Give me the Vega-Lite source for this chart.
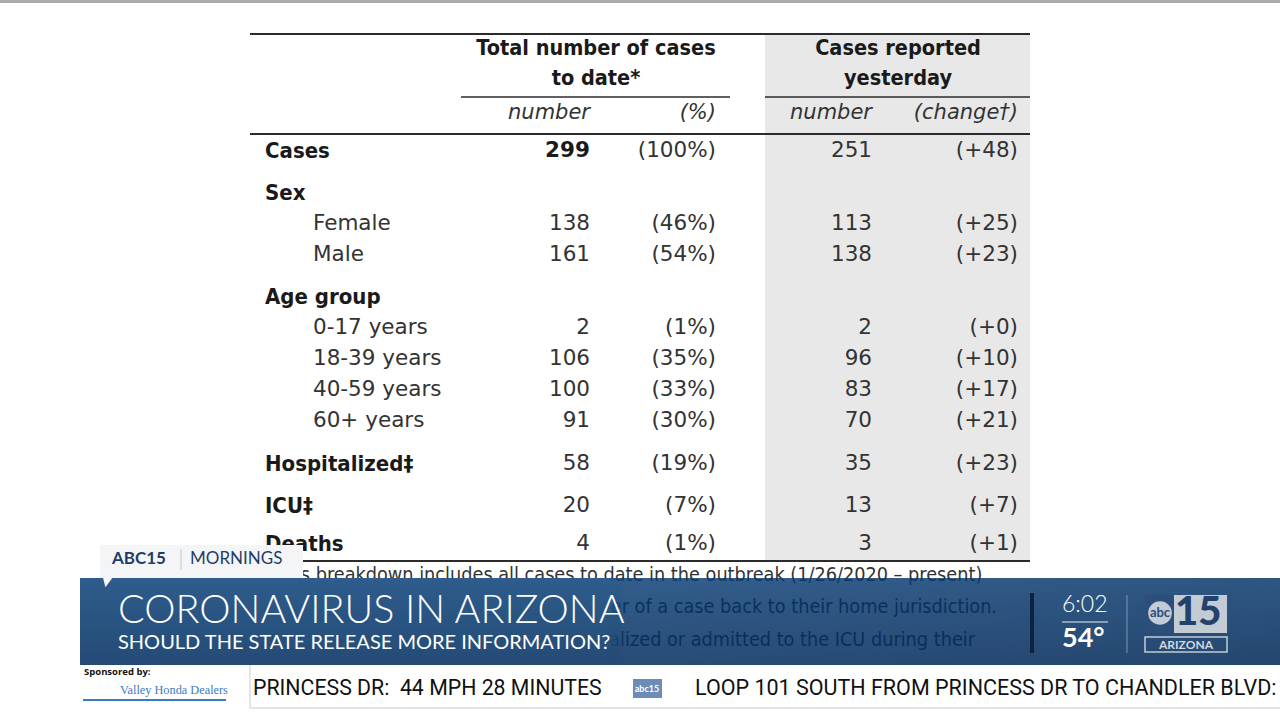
{
"$schema": "https://vega.github.io/schema/vega-lite/v6.json",
"width": 1280, "height": 720, "padding": 0, "autosize": {"type": "none"},
"background": "#ffffff",
"config": {"view": {"stroke": null}},
"datasets": {
"table": [
{"row": 1, "label": "Cases", "level": "group", "total": 299, "pct": "(100%)", "yest": 251, "change": "(+48)"},
{"row": 2, "label": "Sex", "level": "group"},
{"row": 3, "label": "Female", "level": "item", "total": 138, "pct": "(46%)", "yest": 113, "change": "(+25)"},
{"row": 4, "label": "Male", "level": "item", "total": 161, "pct": "(54%)", "yest": 138, "change": "(+23)"},
{"row": 5, "label": "Age group", "level": "group"},
{"row": 6, "label": "0-17 years", "level": "item", "total": 2, "pct": "(1%)", "yest": 2, "change": "(+0)"},
{"row": 7, "label": "18-39 years", "level": "item", "total": 106, "pct": "(35%)", "yest": 96, "change": "(+10)"},
{"row": 8, "label": "40-59 years", "level": "item", "total": 100, "pct": "(33%)", "yest": 83, "change": "(+17)"},
{"row": 9, "label": "60+ years", "level": "item", "total": 91, "pct": "(30%)", "yest": 70, "change": "(+21)"},
{"row": 10, "label": "Hospitalized‡", "level": "group", "total": 58, "pct": "(19%)", "yest": 35, "change": "(+23)"},
{"row": 11, "label": "ICU‡", "level": "group", "total": 20, "pct": "(7%)", "yest": 13, "change": "(+7)"},
{"row": 12, "label": "Deaths", "level": "group", "total": 4, "pct": "(1%)", "yest": 3, "change": "(+1)"}
]
},
"layer": [
{"data": {"values": [{"part": "top edge"}]}, "mark": {"type": "rect", "color": "#ababab"},
 "encoding": {"x": {"datum": 0, "type": "quantitative", "axis": null, "scale": {"type":"linear","nice":false,"zero":false,"domain":[0,1,2,3,4,5,6,7,8,9,10,11,12,13,14,15,16,17,18,19,20,21,22,23,24,25,26,27,28,29,30,31,32,33,34,35,36,37,38,39,40,41,42],"range":[0,80,83,84,100,108,112,118,120,181,190,226,250,253,265,303,313,461,590,596,633,647,662,695,716,730,765,872,898,975,997,1018,1030,1032,1062,1108,1127,1145,1160,1174,1186,1227,1280]}},
  "x2": {"datum": 42},
  "y": {"datum": -8, "type": "quantitative", "axis": null, "scale": {"type":"linear","nice":false,"zero":false,"domain":[-8,-7,-6,-5,-4,-3,-2,-1,1,2,3,4,5,6,7,8,9,10,11,12,13,14,15,16,17,18,19,20,21,22,23,24,25,26,27,28,29,30,31,32,33,34,35,36,37,38,39,40,41,42,43,44],"range":[0,3,34,49,79,97,113,134,151,193,224,255,297,328,359,390,421,464,506,544,545,549,559,561,570,575,578,582,593,595,605,607,611,613,622,633,637,639,640,643,645,652,653,665,672,679,689,690,698,700,708,720]}},
  "y2": {"datum": -7}}},
{"data": {"values": [{"part": "yesterday column shade"}]}, "mark": {"type": "rect", "color": "#e8e8e8"},
 "encoding": {"x": {"datum": 26, "type": "quantitative"}, "x2": {"datum": 32}, "y": {"datum": -6, "type": "quantitative"}, "y2": {"datum": 16}}},
{"data": {"values": [{"part": "top rule"}]}, "mark": {"type": "rule", "color": "#2b2b2b", "strokeWidth": 2},
 "encoding": {"x": {"datum": 12, "type": "quantitative"}, "x2": {"datum": 32}, "y": {"datum": -6, "type": "quantitative"}}},
{"data": {"values": [{"part": "underline total"}]}, "mark": {"type": "rule", "color": "#2b2b2b", "strokeWidth": 1.6},
 "encoding": {"x": {"datum": 17, "type": "quantitative"}, "x2": {"datum": 25}, "y": {"datum": -3, "type": "quantitative"}}},
{"data": {"values": [{"part": "underline yesterday"}]}, "mark": {"type": "rule", "color": "#2b2b2b", "strokeWidth": 1.6},
 "encoding": {"x": {"datum": 26, "type": "quantitative"}, "x2": {"datum": 32}, "y": {"datum": -3, "type": "quantitative"}}},
{"data": {"values": [{"part": "header rule"}]}, "mark": {"type": "rule", "color": "#2b2b2b", "strokeWidth": 2},
 "encoding": {"x": {"datum": 12, "type": "quantitative"}, "x2": {"datum": 32}, "y": {"datum": -1, "type": "quantitative"}}},
{"data": {"values": [{"part": "bottom rule"}]}, "mark": {"type": "rule", "color": "#2b2b2b", "strokeWidth": 2},
 "encoding": {"x": {"datum": 12, "type": "quantitative"}, "x2": {"datum": 32}, "y": {"datum": 16, "type": "quantitative"}}},
{"data": {"values": [{"text": "Total number of cases"}]}, "mark": {"type": "text", "font": "DejaVu Sans Condensed", "fontWeight": "bold", "fontSize": 21.5, "color": "#1a1a1a", "align": "center", "baseline": "middle"},
 "encoding": {"x": {"datum": 19, "type": "quantitative"}, "y": {"datum": -5, "type": "quantitative"}, "text": {"field": "text"}}},
{"data": {"values": [{"text": "to date*"}]}, "mark": {"type": "text", "font": "DejaVu Sans Condensed", "fontWeight": "bold", "fontSize": 21.5, "color": "#1a1a1a", "align": "center", "baseline": "middle"},
 "encoding": {"x": {"datum": 19, "type": "quantitative"}, "y": {"datum": -4, "type": "quantitative"}, "text": {"field": "text"}}},
{"data": {"values": [{"text": "Cases reported"}]}, "mark": {"type": "text", "font": "DejaVu Sans Condensed", "fontWeight": "bold", "fontSize": 21.5, "color": "#1a1a1a", "align": "center", "baseline": "middle"},
 "encoding": {"x": {"datum": 28, "type": "quantitative"}, "y": {"datum": -5, "type": "quantitative"}, "text": {"field": "text"}}},
{"data": {"values": [{"text": "yesterday"}]}, "mark": {"type": "text", "font": "DejaVu Sans Condensed", "fontWeight": "bold", "fontSize": 21.5, "color": "#1a1a1a", "align": "center", "baseline": "middle"},
 "encoding": {"x": {"datum": 28, "type": "quantitative"}, "y": {"datum": -4, "type": "quantitative"}, "text": {"field": "text"}}},
{"data": {"values": [{"text": "number"}]}, "mark": {"type": "text", "font": "DejaVu Sans", "fontStyle": "italic", "fontSize": 21, "color": "#333333", "align": "right", "baseline": "middle"},
 "encoding": {"x": {"datum": 18, "type": "quantitative"}, "y": {"datum": -2, "type": "quantitative"}, "text": {"field": "text"}}},
{"data": {"values": [{"text": "(%)"}]}, "mark": {"type": "text", "font": "DejaVu Sans", "fontStyle": "italic", "fontSize": 21, "color": "#333333", "align": "right", "baseline": "middle"},
 "encoding": {"x": {"datum": 24, "type": "quantitative"}, "y": {"datum": -2, "type": "quantitative"}, "text": {"field": "text"}}},
{"data": {"values": [{"text": "number"}]}, "mark": {"type": "text", "font": "DejaVu Sans", "fontStyle": "italic", "fontSize": 21, "color": "#333333", "align": "right", "baseline": "middle"},
 "encoding": {"x": {"datum": 27, "type": "quantitative"}, "y": {"datum": -2, "type": "quantitative"}, "text": {"field": "text"}}},
{"data": {"values": [{"text": "(change†)"}]}, "mark": {"type": "text", "font": "DejaVu Sans", "fontStyle": "italic", "fontSize": 21, "color": "#333333", "align": "right", "baseline": "middle"},
 "encoding": {"x": {"datum": 31, "type": "quantitative"}, "y": {"datum": -2, "type": "quantitative"}, "text": {"field": "text"}}},
{"data": {"name": "table"}, "transform": [{"filter": "datum.level == 'group'"}],
 "mark": {"type": "text", "font": "DejaVu Sans Condensed", "fontWeight": "bold", "fontSize": 22, "color": "#1a1a1a", "align": "left", "baseline": "middle"},
 "encoding": {"x": {"datum": 14, "type": "quantitative"}, "y": {"field": "row", "type": "quantitative"}, "text": {"field": "label"}}},
{"data": {"name": "table"}, "transform": [{"filter": "datum.level == 'item'"}],
 "mark": {"type": "text", "font": "DejaVu Sans", "fontSize": 21.5, "color": "#333333", "align": "left", "baseline": "middle"},
 "encoding": {"x": {"datum": 16, "type": "quantitative"}, "y": {"field": "row", "type": "quantitative"}, "text": {"field": "label"}}},
{"data": {"name": "table"}, "transform": [{"filter": "isValid(datum.total) && datum.row != 1"}],
 "mark": {"type": "text", "font": "DejaVu Sans", "fontSize": 21.5, "color": "#333333", "align": "right", "baseline": "middle"},
 "encoding": {"x": {"datum": 18, "type": "quantitative"}, "y": {"field": "row", "type": "quantitative"}, "text": {"field": "total", "type": "quantitative", "format": "d"}}},
{"data": {"name": "table"}, "transform": [{"filter": "datum.row == 1"}],
 "mark": {"type": "text", "font": "DejaVu Sans", "fontWeight": "bold", "fontSize": 21.5, "color": "#1a1a1a", "align": "right", "baseline": "middle"},
 "encoding": {"x": {"datum": 18, "type": "quantitative"}, "y": {"field": "row", "type": "quantitative"}, "text": {"field": "total", "type": "quantitative", "format": "d"}}},
{"data": {"name": "table"}, "transform": [{"filter": "isValid(datum.pct)"}],
 "mark": {"type": "text", "font": "DejaVu Sans", "fontSize": 21.5, "color": "#333333", "align": "right", "baseline": "middle"},
 "encoding": {"x": {"datum": 24, "type": "quantitative"}, "y": {"field": "row", "type": "quantitative"}, "text": {"field": "pct"}}},
{"data": {"name": "table"}, "transform": [{"filter": "isValid(datum.yest)"}],
 "mark": {"type": "text", "font": "DejaVu Sans", "fontSize": 21.5, "color": "#333333", "align": "right", "baseline": "middle"},
 "encoding": {"x": {"datum": 27, "type": "quantitative"}, "y": {"field": "row", "type": "quantitative"}, "text": {"field": "yest", "type": "quantitative", "format": "d"}}},
{"data": {"name": "table"}, "transform": [{"filter": "isValid(datum.change)"}],
 "mark": {"type": "text", "font": "DejaVu Sans", "fontSize": 21.5, "color": "#333333", "align": "right", "baseline": "middle"},
 "encoding": {"x": {"datum": 31, "type": "quantitative"}, "y": {"field": "row", "type": "quantitative"}, "text": {"field": "change"}}},
{"data": {"values": [{"text": "*This breakdown includes all cases to date in the outbreak (1/26/2020 – present)"}]},
 "mark": {"type": "text", "font": "Liberation Sans Narrow, DejaVu Sans Condensed", "fontSize": 19.7, "color": "#333333", "align": "left", "baseline": "middle"},
 "encoding": {"x": {"datum": 14, "type": "quantitative"}, "y": {"datum": 18, "type": "quantitative"}, "text": {"field": "text"}}},
{"data": {"values": [{"text": "er of a case back to their home jurisdiction."}]},
 "mark": {"type": "text", "font": "Liberation Sans Narrow, DejaVu Sans Condensed", "fontSize": 19.7, "color": "#111111", "align": "right", "baseline": "middle"},
 "encoding": {"x": {"datum": 30, "type": "quantitative"}, "y": {"datum": 24, "type": "quantitative"}, "text": {"field": "text"}}},
{"data": {"values": [{"text": "talized or admitted to the ICU during their"}]},
 "mark": {"type": "text", "font": "Liberation Sans Narrow, DejaVu Sans Condensed", "fontSize": 19.7, "color": "#111111", "align": "right", "baseline": "middle"},
 "encoding": {"x": {"datum": 29, "type": "quantitative"}, "y": {"datum": 31, "type": "quantitative"}, "text": {"field": "text"}}},
{"data": {"values": [{"part": "lower third banner"}]},
 "mark": {"type": "rect", "fill": {"gradient": "linear", "x1": 0, "y1": 0, "x2": 1, "y2": 0, "stops": [{"offset": 0, "color": "rgba(46,92,140,1)"}, {"offset": 0.44, "color": "rgba(46,92,140,1)"}, {"offset": 0.455, "color": "rgba(6,58,114,0.82)"}, {"offset": 1, "color": "rgba(6,54,106,0.84)"}]}},
 "encoding": {"x": {"datum": 1, "type": "quantitative"}, "x2": {"datum": 42}, "y": {"datum": 19, "type": "quantitative"}, "y2": {"datum": 36}}},
{"data": {"values": [{"part": "banner shade"}]},
 "mark": {"type": "rect", "fill": {"gradient": "linear", "x1": 0, "y1": 0, "x2": 0, "y2": 1, "stops": [{"offset": 0, "color": "rgba(10,30,60,0)"}, {"offset": 1, "color": "rgba(10,30,60,0.28)"}]}},
 "encoding": {"x": {"datum": 1, "type": "quantitative"}, "x2": {"datum": 42}, "y": {"datum": 19, "type": "quantitative"}, "y2": {"datum": 36}}},
{"data": {"values": [{"part": "show tab"}]}, "mark": {"type": "rect", "color": "#f4f5f7"},
 "encoding": {"x": {"datum": 4, "type": "quantitative"}, "x2": {"datum": 15}, "y": {"datum": 13, "type": "quantitative"}, "y2": {"datum": 19}}},
{"data": {"values": [{"part": "tab tail"}]}, "mark": {"type": "point", "filled": true, "color": "#f4f5f7", "opacity": 1, "shape": "M -1 -1 L 1 -1 L -0.5 1 Z", "size": 110},
 "encoding": {"x": {"datum": 5, "type": "quantitative"}, "y": {"datum": 20, "type": "quantitative"}}},
{"data": {"values": [{"part": "tab separator"}]}, "mark": {"type": "rule", "color": "#c9ced6", "strokeWidth": 1.2},
 "encoding": {"x": {"datum": 9, "type": "quantitative"}, "y": {"datum": 14, "type": "quantitative"}, "y2": {"datum": 17}}},
{"data": {"values": [{"text": "ABC15"}]}, "mark": {"type": "text", "font": "Lato", "fontWeight": "bold", "fontSize": 17, "color": "#1f3d68", "align": "left", "baseline": "middle"},
 "encoding": {"x": {"datum": 6, "type": "quantitative"}, "y": {"datum": 15, "type": "quantitative"}, "text": {"field": "text"}}},
{"data": {"values": [{"text": "MORNINGS"}]}, "mark": {"type": "text", "font": "Lato", "fontSize": 17, "color": "#1f3d68", "align": "left", "baseline": "middle"},
 "encoding": {"x": {"datum": 10, "type": "quantitative"}, "y": {"datum": 15, "type": "quantitative"}, "text": {"field": "text"}}},
{"data": {"values": [{"text": "CORONAVIRUS IN ARIZONA"}]}, "mark": {"type": "text", "font": "Lato", "fontWeight": 300, "fontSize": 39.5, "color": "#ffffff", "align": "left", "baseline": "middle"},
 "encoding": {"x": {"datum": 7, "type": "quantitative"}, "y": {"datum": 25, "type": "quantitative"}, "text": {"field": "text"}}},
{"data": {"values": [{"text": "SHOULD THE STATE RELEASE MORE INFORMATION?"}]}, "mark": {"type": "text", "font": "Lato", "fontSize": 20, "color": "#ffffff", "align": "left", "baseline": "middle"},
 "encoding": {"x": {"datum": 7, "type": "quantitative"}, "y": {"datum": 32, "type": "quantitative"}, "text": {"field": "text"}}},
{"data": {"values": [{"part": "dark divider"}]}, "mark": {"type": "rule", "color": "#0b2340", "strokeWidth": 4},
 "encoding": {"x": {"datum": 33, "type": "quantitative"}, "y": {"datum": 21, "type": "quantitative"}, "y2": {"datum": 35}}},
{"data": {"values": [{"text": "6:02"}]}, "mark": {"type": "text", "font": "Lato", "fontWeight": 300, "fontSize": 23, "color": "#ffffff", "align": "left", "baseline": "middle"},
 "encoding": {"x": {"datum": 34, "type": "quantitative"}, "y": {"datum": 23, "type": "quantitative"}, "text": {"field": "text"}}},
{"data": {"values": [{"part": "time rule"}]}, "mark": {"type": "rule", "color": "#e8eef5", "strokeWidth": 1.2},
 "encoding": {"x": {"datum": 34, "type": "quantitative"}, "x2": {"datum": 35}, "y": {"datum": 27, "type": "quantitative"}}},
{"data": {"values": [{"text": "54°"}]}, "mark": {"type": "text", "font": "Lato", "fontWeight": "bold", "fontSize": 27, "color": "#ffffff", "align": "left", "baseline": "middle"},
 "encoding": {"x": {"datum": 34, "type": "quantitative"}, "y": {"datum": 30, "type": "quantitative"}, "text": {"field": "text"}}},
{"data": {"values": [{"part": "thin divider"}]}, "mark": {"type": "rule", "color": "#7d96b3", "strokeWidth": 1},
 "encoding": {"x": {"datum": 36, "type": "quantitative"}, "y": {"datum": 22, "type": "quantitative"}, "y2": {"datum": 35}}},
{"data": {"values": [{"part": "logo plate"}]}, "mark": {"type": "rect", "color": "#c3cbd4"},
 "encoding": {"x": {"datum": 37, "type": "quantitative"}, "x2": {"datum": 41}, "y": {"datum": 22, "type": "quantitative"}, "y2": {"datum": 28}}},
{"data": {"values": [{"part": "logo square"}]}, "mark": {"type": "rect", "color": "#2b4e7b"},
 "encoding": {"x": {"datum": 37, "type": "quantitative"}, "x2": {"datum": 39}, "y": {"datum": 22, "type": "quantitative"}, "y2": {"datum": 28}}},
{"data": {"values": [{"part": "logo circle"}]}, "mark": {"type": "point", "filled": true, "shape": "circle", "color": "#c3cbd4", "opacity": 1, "size": 560},
 "encoding": {"x": {"datum": 38, "type": "quantitative"}, "y": {"datum": 26, "type": "quantitative"}}},
{"data": {"values": [{"text": "abc"}]}, "mark": {"type": "text", "font": "Lato", "fontWeight": "bold", "fontSize": 13, "color": "#2b4e7b", "align": "center", "baseline": "middle"},
 "encoding": {"x": {"datum": 38, "type": "quantitative"}, "y": {"datum": 26, "type": "quantitative"}, "text": {"field": "text"}}},
{"data": {"values": [{"text": "15"}]}, "mark": {"type": "text", "font": "Lato", "fontWeight": 900, "fontSize": 40, "color": "#24416b", "align": "left", "baseline": "middle", "dx": 1},
 "encoding": {"x": {"datum": 39, "type": "quantitative"}, "y": {"datum": 26, "type": "quantitative"}, "text": {"field": "text"}}},
{"data": {"values": [{"part": "station box"}]}, "mark": {"type": "rect", "fill": null, "fillOpacity": 0, "stroke": "#c3cbd4", "strokeWidth": 1.5},
 "encoding": {"x": {"datum": 37, "type": "quantitative"}, "x2": {"datum": 41}, "y": {"datum": 29, "type": "quantitative"}, "y2": {"datum": 34}}},
{"data": {"values": [{"text": "ARIZONA"}]}, "mark": {"type": "text", "font": "Lato", "fontWeight": "bold", "fontSize": 12, "letterSpacing": 1.2, "color": "#d3d9e0", "align": "center", "baseline": "middle"},
 "encoding": {"x": {"datum": 40, "type": "quantitative"}, "y": {"datum": 33, "type": "quantitative"}, "text": {"field": "text"}}},
{"data": {"values": [{"part": "ticker bottom line"}]}, "mark": {"type": "rule", "color": "#dddddd", "strokeWidth": 1.5},
 "encoding": {"x": {"datum": 12, "type": "quantitative"}, "x2": {"datum": 42}, "y": {"datum": 43, "type": "quantitative"}}},
{"data": {"values": [{"part": "ticker separator"}]}, "mark": {"type": "rule", "color": "#dddddd", "strokeWidth": 1.5},
 "encoding": {"x": {"datum": 12, "type": "quantitative"}, "y": {"datum": 36, "type": "quantitative"}, "y2": {"datum": 43}}},
{"data": {"values": [{"text": "Sponsored by:"}]}, "mark": {"type": "text", "font": "Open Sans", "fontWeight": "bold", "fontSize": 9.5, "color": "#111111", "align": "left", "baseline": "middle"},
 "encoding": {"x": {"datum": 3, "type": "quantitative"}, "y": {"datum": 37, "type": "quantitative"}, "text": {"field": "text"}}},
{"data": {"values": [{"text": "Valley Honda Dealers"}]}, "mark": {"type": "text", "font": "Liberation Serif", "fontSize": 12.3, "color": "#3b7bbf", "align": "left", "baseline": "middle"},
 "encoding": {"x": {"datum": 8, "type": "quantitative"}, "y": {"datum": 40, "type": "quantitative"}, "text": {"field": "text"}}},
{"data": {"values": [{"part": "sponsor underline"}]}, "mark": {"type": "rule", "color": "#3b7bbf", "strokeWidth": 2},
 "encoding": {"x": {"datum": 2, "type": "quantitative"}, "x2": {"datum": 11}, "y": {"datum": 42, "type": "quantitative"}}},
{"data": {"values": [{"text": "PRINCESS DR:\u00a0\u00a044 MPH 28 MINUTES"}]}, "mark": {"type": "text", "font": "Roboto", "fontSize": 21.3, "color": "#111111", "align": "left", "baseline": "middle"},
 "encoding": {"x": {"datum": 13, "type": "quantitative"}, "y": {"datum": 39, "type": "quantitative"}, "text": {"field": "text"}}},
{"data": {"values": [{"part": "ticker logo"}]}, "mark": {"type": "rect", "color": "#6b8cb6"},
 "encoding": {"x": {"datum": 20, "type": "quantitative"}, "x2": {"datum": 22}, "y": {"datum": 38, "type": "quantitative"}, "y2": {"datum": 41}}},
{"data": {"values": [{"text": "abc15"}]}, "mark": {"type": "text", "font": "Lato", "fontWeight": "bold", "fontSize": 9, "color": "#ffffff", "align": "center", "baseline": "middle"},
 "encoding": {"x": {"datum": 21, "type": "quantitative"}, "y": {"datum": 39, "type": "quantitative"}, "text": {"field": "text"}}},
{"data": {"values": [{"text": "LOOP 101 SOUTH FROM PRINCESS DR TO CHANDLER BLVD:"}]}, "mark": {"type": "text", "font": "Roboto", "fontSize": 21.5, "color": "#111111", "align": "left", "baseline": "middle"},
 "encoding": {"x": {"datum": 23, "type": "quantitative"}, "y": {"datum": 39, "type": "quantitative"}, "text": {"field": "text"}}}
]
}
